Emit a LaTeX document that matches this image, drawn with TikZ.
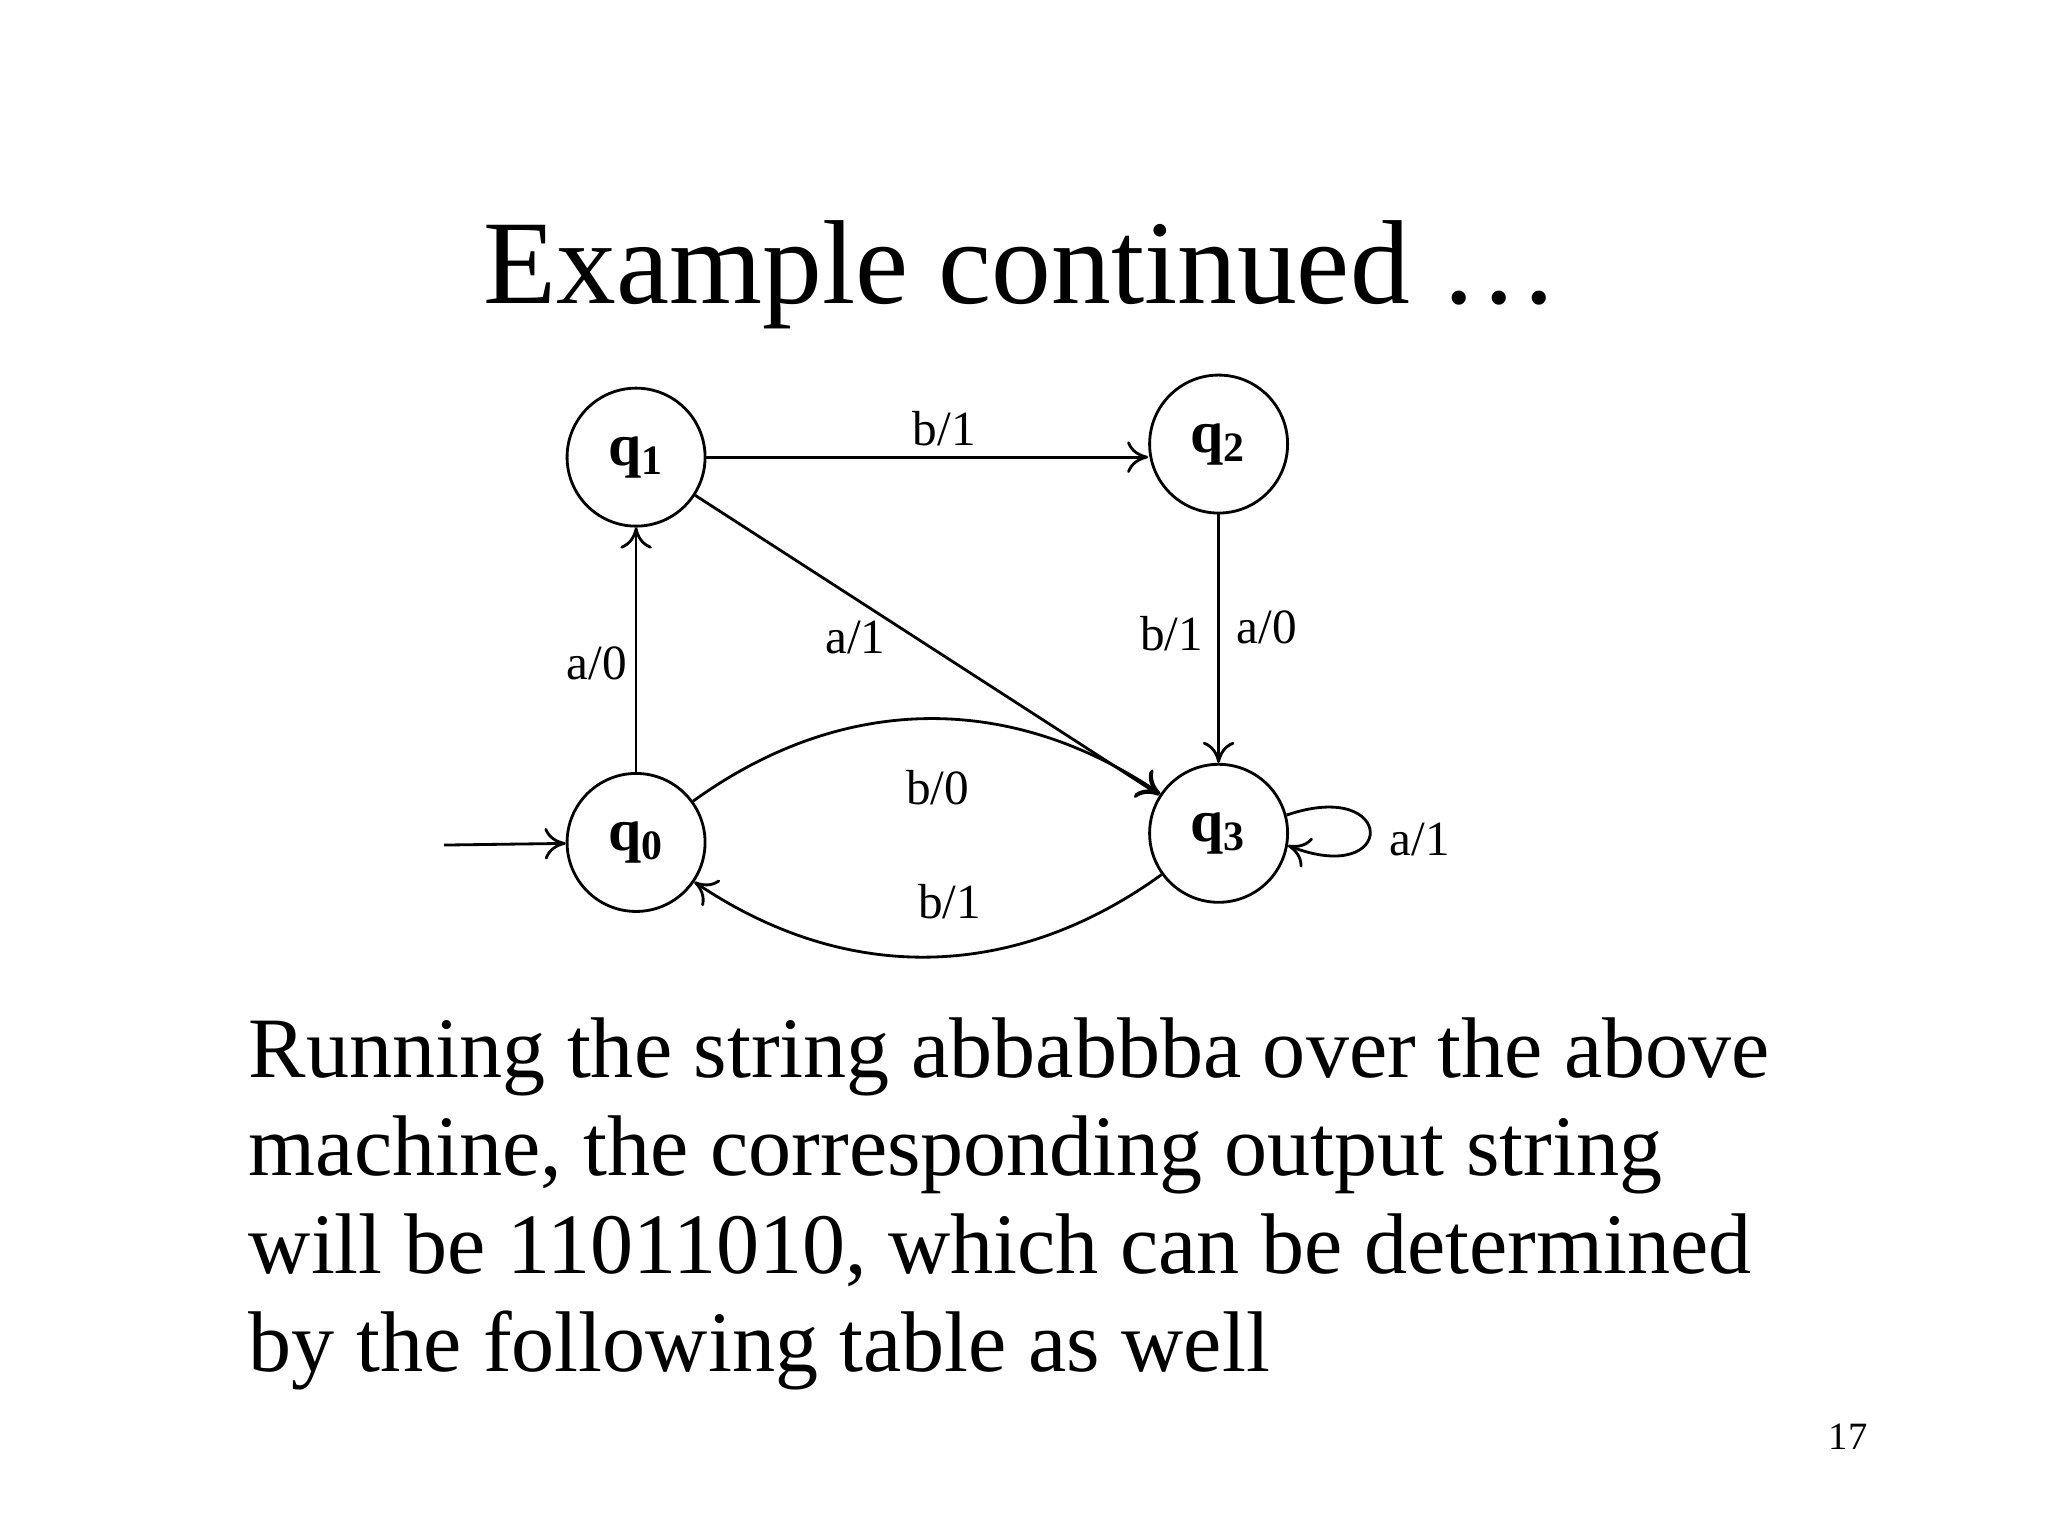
\documentclass[tikz,border=0pt]{standalone}
\usepackage{fontspec}
\setmainfont{Liberation Serif}
\usetikzlibrary{arrows.meta}
\begin{document}
\begin{tikzpicture}[x=0.01306cm,y=-0.01306cm,
  st/.style={circle,draw,line width=0.8pt,minimum size=1.38cm,inner sep=0pt,font=\fontsize{17}{20}\selectfont\bfseries},
  ed/.style={-{To[length=6pt,width=9pt]},line width=0.8pt},
  lb/.style={font=\fontsize{14}{16}\selectfont},
  bt/.style={anchor=base west,inner sep=0pt,font=\fontsize{24.5}{28}\selectfont}]
\useasboundingbox (0,0) rectangle (1568,1176);
\node[font=\fontsize{34}{40}\selectfont] (title) at (782,210) {Example continued …};
\node[st] (q1) at (487,350) {q$_{\mathbf 1}$};
\node[st] (q2) at (933,340) {q$_{\mathbf 2}$};
\node[st] (q0) at (487,645) {q$_{\mathbf 0}$};
\node[st] (q3) at (933,638) {q$_{\mathbf 3}$};
\coordinate (start) at (340,647);
\draw[ed] (start) -- (q0);
\draw[ed] (q1.east |- q1) ++(0,0) -- (q2.west |- q1);
\draw[ed] (q1) -- (q3);
\draw[ed] (q0) -- (q1);
\draw[ed] (q2) -- (q3);
\draw[ed] (q0) to[bend left=35] (q3);
\draw[ed] (q3) to[bend left=35] (q0);
\draw[ed] (q3.15) .. controls (1070,595) and (1070,680) .. (q3.-10);
\node[lb] (l1) at (723,328) {b/1};
\node[lb] (l2) at (655,488) {a/1};
\node[lb] (l3) at (457,508) {a/0};
\node[lb] (l4) at (897,485) {b/1};
\node[lb] (l5) at (970,480) {a/0};
\node[lb] (l6) at (718,603) {b/0};
\node[lb] (l7) at (727,690) {b/1};
\node[lb] (l8) at (1087,643) {a/1};
\node[bt] (t1) at (190,825) {Running the string abbabbba over the above};
\node[bt] (t2) at (190,900) {machine, the corresponding output string};
\node[bt] (t3) at (190,975) {will be 11011010, which can be determined};
\node[bt] (t4) at (190,1050) {by the following table as well};
\node[font=\fontsize{11}{13}\selectfont] (pg) at (1415,1100) {17};
\end{tikzpicture}
\end{document}
